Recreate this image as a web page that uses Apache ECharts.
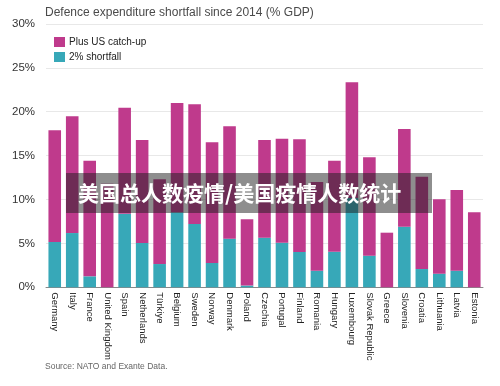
<!DOCTYPE html>
<html><head><meta charset="utf-8">
<script src="https://cdn.jsdelivr.net/npm/echarts@6/dist/echarts.min.js"></script>
<style>html,body{margin:0;padding:0;background:#fff}#c{width:500px;height:386px}</style>
</head><body><div id="c"></div>
<script>
var categories = ["Germany","Italy","France","United Kingdom","Spain","Netherlands","Türkiye","Belgium","Sweden","Norway","Denmark","Poland","Czechia","Portugal","Finland","Romania","Hungary","Luxembourg","Slovak Republic","Greece","Slovenia","Croatia","Lithuania","Latvia","Estonia"];
var shortfall = [5.16,6.18,1.25,0,8.38,5.05,2.65,8.54,7.21,2.77,5.54,0.2,5.65,5.08,4.02,1.89,4.05,10.17,3.6,0,6.9,2.08,1.55,1.89,0];
var catchUp = [12.72,13.3,13.17,11.8,12.08,11.73,9.65,12.45,13.63,13.74,12.8,7.54,11.13,11.84,12.84,10.1,10.37,13.18,11.2,6.22,11.13,10.52,8.47,9.19,8.54];
var yTicks = [0,5,10,15,20,25,30];
var titleText = "Defence expenditure shortfall since 2014 (% GDP)";
var sourceText = "Source: NATO and Exante Data.";
var bannerText = "美国总人数疫情/美国疫情人数统计";

var font = "'Liberation Sans', Arial, sans-serif";
var chart = echarts.init(document.getElementById('c'), null, {renderer:'canvas'});
chart.setOption({
  animation:false,
  backgroundColor:'#fff',
  title:{text:titleText,left:45,top:7,padding:0,textStyle:{fontFamily:font,fontSize:12,fontWeight:'normal',color:'#4a4a4a'}},
  legend:{orient:'vertical',left:54,top:37,padding:0,itemWidth:11,itemHeight:10,itemGap:5,icon:'rect',
    data:['Plus US catch-up','2% shortfall'],
    textStyle:{fontFamily:font,fontSize:10,color:'#222',padding:[0,0,0,-1]}},
  grid:{left:46,right:17,top:23.9,bottom:98.7,containLabel:false},
  xAxis:{type:'category',data:categories,
    axisLine:{lineStyle:{color:'#888',width:1}},axisTick:{show:false},
    axisLabel:{rotate:-90,interval:0,fontFamily:font,fontSize:9.5,color:'#222',margin:5}},
  yAxis:{type:'value',min:yTicks[0],max:yTicks[yTicks.length-1],interval:5,
    axisLine:{show:false},axisTick:{show:false},
    splitLine:{lineStyle:{color:'#e8e8e8',width:1}},
    axisLabel:{formatter:function(v){return v+'%';},fontFamily:font,fontSize:11.5,color:'#333',margin:11}},
  series:[
    {name:'2% shortfall',type:'bar',stack:'t',data:shortfall,barCategoryGap:'28%',itemStyle:{color:'#37a8b8'}},
    {name:'Plus US catch-up',type:'bar',stack:'t',data:catchUp,itemStyle:{color:'#bf3a8c'}}
  ],
  graphic:[
    {type:'text',left:45,top:362,style:{text:sourceText,font:'8.5px '+font,fill:'#666'}},
    {type:'rect',z:100,shape:{x:66,y:173,width:366,height:40},style:{fill:'rgba(30,30,30,0.5)'}},
    {type:'text',z:101,x:78,y:193,style:{text:bannerText,font:"bold 21px 'Noto Sans CJK SC', sans-serif",fill:'#fff',textVerticalAlign:'middle',textBaseline:'middle'}}
  ]
});
</script></body></html>
